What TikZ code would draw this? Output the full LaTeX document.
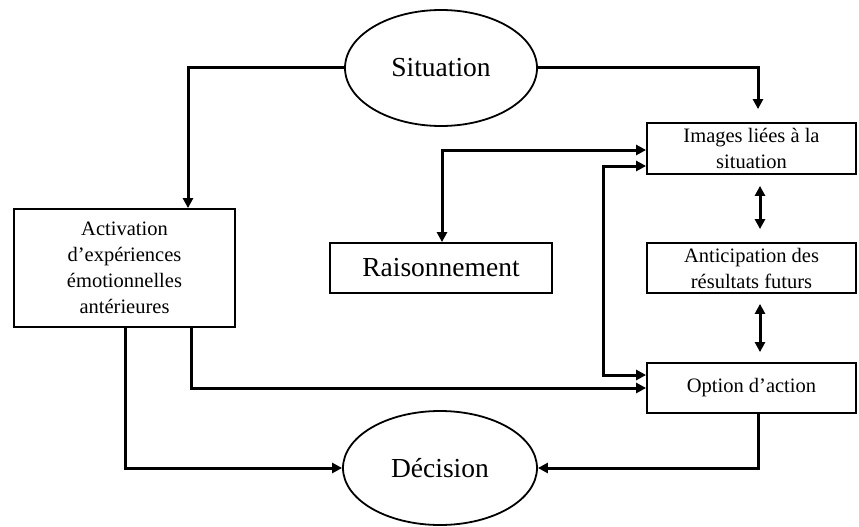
\documentclass[tikz,border=0pt]{standalone}
\usepackage{fontspec}
\setmainfont{Liberation Serif}
\usetikzlibrary{shapes.geometric,arrows.meta}
\begin{document}
\begin{tikzpicture}[x=1pt,y=-1pt,
  box/.style={draw,line width=1.8pt,rectangle,inner sep=0pt,align=center,font=\fontsize{20.5}{26}\selectfont},
  oval/.style={draw,line width=1.8pt,ellipse,inner sep=0pt,font=\fontsize{27.5}{32}\selectfont},
  conn/.style={line width=3pt},
  arr/.style={conn,-{Triangle[length=10pt,width=10pt]}},
  darr/.style={conn,{Triangle[length=10pt,width=10pt]}-{Triangle[length=10pt,width=10pt]}}]
\useasboundingbox (0,0) rectangle (859,527);
\node[oval,minimum width=192pt,minimum height=116pt] (sit) at (441,68) {Situation};
\node[oval,minimum width=194pt,minimum height=114pt] (dec) at (440,468) {Décision};
\node[box,minimum width=221pt,minimum height=118pt] (act) at (124.5,268) {Activation\\d’expériences\\émotionnelles\\antérieures};
\node[box,minimum width=222pt,minimum height=50pt,font=\fontsize{27.5}{32}\selectfont] (rai) at (441,268) {Raisonnement};
\node[box,minimum width=209pt,minimum height=51pt] (img) at (751.5,148.5) {Images liées à la\\situation};
\node[box,minimum width=209pt,minimum height=50pt] (ant) at (751.5,268) {Anticipation des\\résultats futurs};
\node[box,minimum width=209pt,minimum height=50pt] (opt) at (751.5,388) {Option d’action};
\draw[arr] (sit.west) -| ([xshift=63.5pt]act.north);
\draw[arr] (sit.east) -| ([xshift=6.5pt,yshift=13pt]img.north);
\draw[darr] ([xshift=1pt]rai.north) |- ([yshift=-1.5pt]img.west);
\draw[darr] ([yshift=13pt]opt.west) -- ++(-43,0) |- ([yshift=-17.5pt]img.west);
\draw[darr] ([xshift=8.5pt,yshift=-11pt]img.south) -- ([xshift=8.5pt,yshift=13pt]ant.north);
\draw[darr] ([xshift=8.5pt,yshift=-10pt]ant.south) -- ([xshift=8.5pt,yshift=10pt]opt.north);
\draw[arr] ([xshift=66.5pt]act.south) |- (opt.west);
\draw[arr] ([xshift=0.5pt]act.south) |- (dec.west);
\draw[arr] ([xshift=6.5pt]opt.south) |- (dec.east);
\end{tikzpicture}
\end{document}
